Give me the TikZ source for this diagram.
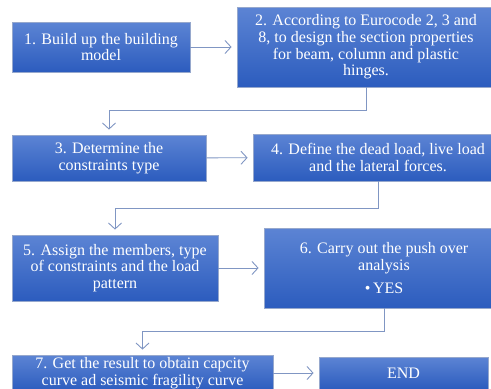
\documentclass[tikz,border=0pt]{standalone}
\usepackage{fontspec}
\setmainfont{Liberation Serif}
\usetikzlibrary{arrows.meta}
\definecolor{boxtop}{RGB}{92,132,212}
\definecolor{boxbot}{RGB}{44,92,190}
\definecolor{boxline}{RGB}{150,168,205}
\definecolor{flowline}{RGB}{128,150,195}
\tikzset{ b/.style = { rectangle % step box
        , draw = boxline
        , line width = 0.8pt
        , top color = boxtop
        , bottom color = boxbot
        , text = white
        , align = center
        , inner sep = 0pt
        , font = \fontsize{16}{16.7}\selectfont
        }
        }

\begin{document}
\begin{tikzpicture}[x=1pt, y=1pt,
        edge_style/.style={draw=flowline, line width=0.9pt, shorten >=5pt,
          -{Straight Barb[length=6pt,width=13pt,line width=0.9pt]}}]
        \useasboundingbox (0,0) rectangle (491,-389);

        \node [b,minimum width=178,minimum height=50](n1) at (101,-47) {1. Build up the building\\model};
        \node [b,minimum width=258,minimum height=80](n2) at (366,-47) {2. According to Eurocode 2, 3 and\\8, to design the section properties\\for beam, column and plastic\\hinges.};
        \node [b,minimum width=194,minimum height=46](n3) at (109,-158) {3. Determine the\\constraints type};
        \node [b,minimum width=250,minimum height=47](n4) at (378,-157.5) {4. Define the dead load, live load\\and the lateral forces.};
        \node [b,minimum width=206,minimum height=66](n5) at (115,-268) {5. Assign the members, type\\of constraints and the load\\pattern};
        \node [b,minimum width=240,minimum height=80](n6) at (384,-268) {6. Carry out the push over\\analysis\\[6pt]\textbullet\,YES};
        \node [b,minimum width=261,minimum height=36](n7) at (142.5,-373) {7. Get the result to obtain capcity\\curve ad seismic fragility curve};
        \node [b,minimum width=169,minimum height=32](n8) at (403.5,-373) {END};

        \draw [edge_style] (n1) -- (n2);
        \draw [edge_style] (n2.south) -- ++(0,-23) -| (n3.north);
        \draw [edge_style] (n3) -- (n4);
        \draw [edge_style] (n4.south) -- ++(0,-27) -| (n5.north);
        \draw [edge_style] (n5) -- (n6);
        \draw [edge_style] (n6.south) -- ++(0,-23) -| (n7.north);
        \draw [edge_style] (n7) -- (n8);

        \end{tikzpicture}
\end{document}
